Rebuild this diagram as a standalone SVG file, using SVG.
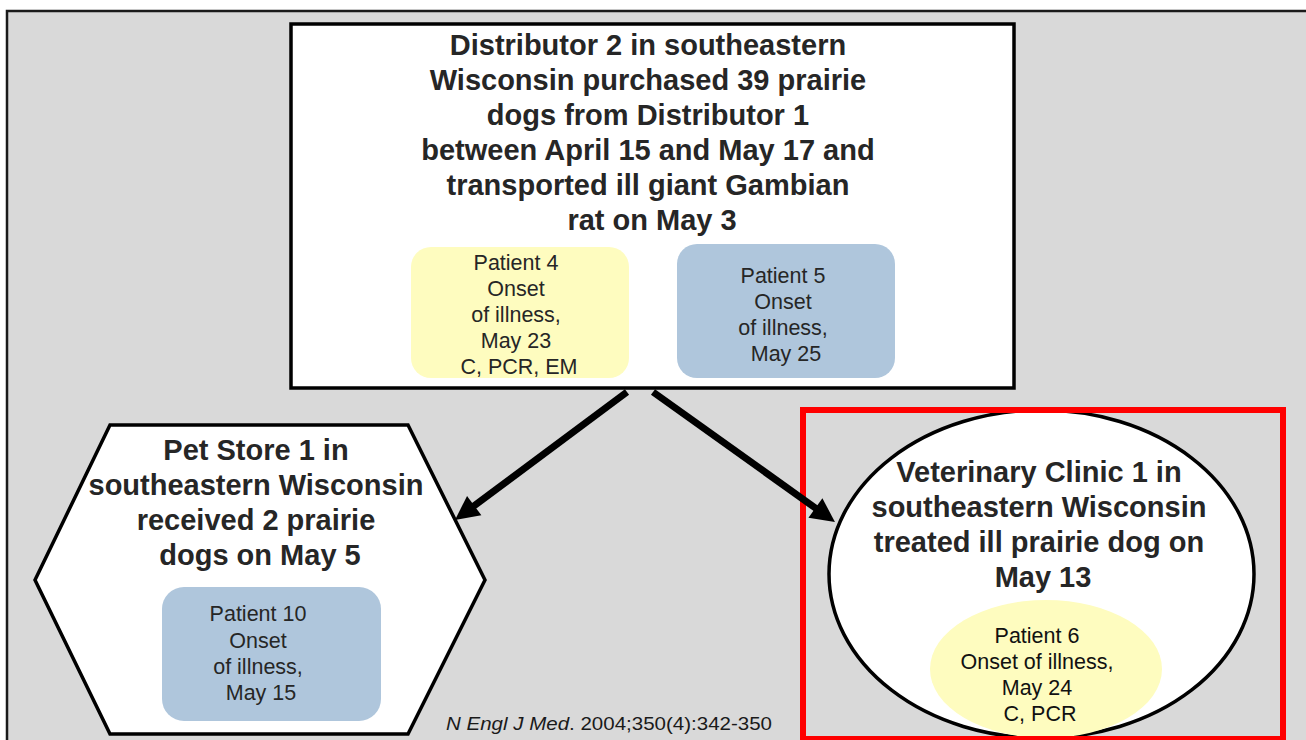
<svg xmlns="http://www.w3.org/2000/svg" width="1306" height="740" viewBox="0 0 1306 740">
  <defs>
    <style>
      .title { font-family: "Liberation Sans", Arial, sans-serif; font-weight: bold; font-size: 29px; fill: #262626; text-anchor: middle; }
      .pt { font-family: "Liberation Sans", Arial, sans-serif; font-size: 21.5px; fill: #262626; text-anchor: middle; }
      .node { fill: #ffffff; stroke: #000000; stroke-width: 3.5; }
      .yellow { fill: #fefcbf; }
      .blue { fill: #afc6dc; }
      .conn { fill: none; stroke: #000000; stroke-width: 7; }
      .cite { font-family: "Liberation Sans", Arial, sans-serif; font-size: 19px; fill: #1a1a1a; }
    </style>
    <marker id="arrow" markerUnits="userSpaceOnUse" markerWidth="26" markerHeight="26" refX="6" refY="12" orient="auto" overflow="visible">
      <path d="M0,0 L24,12 L0,24 z" fill="#000000"/>
    </marker>
  </defs>

  <rect x="0" y="0" width="1306" height="740" fill="#ffffff"/>
  <rect id="frame" x="7" y="11" width="1310" height="740" fill="#d9d9d9" stroke="#1a1a1a" stroke-width="2.5"/>

  <g id="distributor2">
    <rect class="node" x="291" y="24" width="723" height="364"/>
    <text class="title">
      <tspan x="652" y="55">Distributor 2 in southeastern</tspan>
      <tspan x="652" y="90">Wisconsin purchased 39 prairie</tspan>
      <tspan x="652" y="125">dogs from Distributor 1</tspan>
      <tspan x="652" y="160">between April 15 and May 17 and</tspan>
      <tspan x="652" y="195">transported ill giant Gambian</tspan>
      <tspan x="652" y="230">rat on May 3</tspan>
    </text>
  </g>

  <g id="patient4">
    <rect class="yellow" x="411" y="247" width="218" height="131" rx="20" ry="20"/>
    <text class="pt">
      <tspan x="519" y="270">Patient 4</tspan>
      <tspan x="519" y="296">Onset</tspan>
      <tspan x="519" y="322">of illness,</tspan>
      <tspan x="519" y="348">May 23</tspan>
      <tspan x="519" y="374">C, PCR, EM</tspan>
    </text>
  </g>

  <g id="patient5">
    <rect class="blue" x="677" y="244" width="218" height="134" rx="20" ry="20"/>
    <text class="pt">
      <tspan x="786" y="283">Patient 5</tspan>
      <tspan x="786" y="309">Onset</tspan>
      <tspan x="786" y="335">of illness,</tspan>
      <tspan x="786" y="361">May 25</tspan>
    </text>
  </g>

  <g id="petstore1">
    <polygon class="node" stroke-width="3" points="110,425 408,425 485,580 408,734 110,734 35,580"/>
    <text class="title">
      <tspan x="260" y="460">Pet Store 1 in</tspan>
      <tspan x="260" y="495">southeastern Wisconsin</tspan>
      <tspan x="260" y="530">received 2 prairie</tspan>
      <tspan x="260" y="565">dogs on May 5</tspan>
    </text>
  </g>

  <g id="patient10">
    <rect class="blue" x="162" y="587" width="219" height="134" rx="22" ry="22"/>
    <text class="pt">
      <tspan x="261" y="621">Patient 10</tspan>
      <tspan x="261" y="648">Onset</tspan>
      <tspan x="261" y="674">of illness,</tspan>
      <tspan x="261" y="700">May 15</tspan>
    </text>
  </g>

  <g id="vetclinic1">
    <ellipse class="node" stroke-width="3" cx="1041.5" cy="574" rx="212.5" ry="164"/>
    <text class="title">
      <tspan x="1043" y="482">Veterinary Clinic 1 in</tspan>
      <tspan x="1043" y="517">southeastern Wisconsin</tspan>
      <tspan x="1043" y="552">treated ill prairie dog on</tspan>
      <tspan x="1043" y="587">May 13</tspan>
    </text>
  </g>

  <g id="patient6">
    <ellipse class="yellow" cx="1046" cy="669" rx="116" ry="69"/>
    <text class="pt" fill="#111111" style="fill:#111111">
      <tspan x="1040" y="643">Patient 6</tspan>
      <tspan x="1040" y="669">Onset of illness,</tspan>
      <tspan x="1040" y="695">May 24</tspan>
      <tspan x="1040" y="721">C, PCR</tspan>
    </text>
  </g>

  <g id="highlight">
    <rect x="803" y="410" width="480" height="329" fill="none" stroke="#ff0000" stroke-width="6"/>
  </g>

  <g id="connectors">
    <path class="conn" d="M627,392 L469.4,509.3" marker-end="url(#arrow)"/>
    <path class="conn" d="M653,392 L820.3,511.5" marker-end="url(#arrow)"/>
  </g>

  <g id="citation">
    <text class="cite" x="446" y="730" textLength="326" lengthAdjust="spacingAndGlyphs"><tspan font-style="italic">N Engl J Med</tspan>. 2004;350(4):342-350</text>
  </g>
</svg>
